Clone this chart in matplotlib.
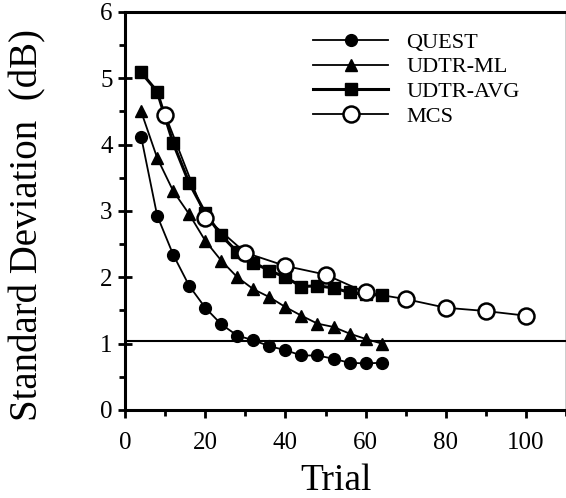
import matplotlib
matplotlib.use("Agg")
import matplotlib.pyplot as plt
from matplotlib.ticker import MultipleLocator

trials4 = [4, 8, 12, 16, 20, 24, 28, 32, 36, 40, 44, 48, 52, 56, 60, 64]
quest = [4.12, 2.93, 2.34, 1.87, 1.54, 1.29, 1.12, 1.05, 0.96, 0.90, 0.82, 0.82, 0.77, 0.71, 0.70, 0.71]
udtr_ml = [4.5, 3.8, 3.3, 2.95, 2.55, 2.25, 2.0, 1.82, 1.7, 1.55, 1.42, 1.3, 1.25, 1.15, 1.07, 1.0]
udtr_avg = [5.09, 4.8, 4.02, 3.42, 2.97, 2.63, 2.38, 2.22, 2.1, 2.0, 1.86, 1.87, 1.84, 1.77, 1.74, 1.73]
trials10 = [10, 20, 30, 40, 50, 60, 70, 80, 90, 100]
mcs = [4.45, 2.9, 2.37, 2.17, 2.04, 1.77, 1.67, 1.54, 1.49, 1.42]
ref_level = 1.04

plt.rcParams['font.family'] = ['Liberation Serif', 'DejaVu Serif']

fig = plt.figure(figsize=(5.66, 4.98), dpi=100)
ax = fig.add_axes([0.221, 0.177, 0.779, 0.799])

ax.axhline(ref_level, color='black', lw=1.5, zorder=1)
ax.plot(trials4, quest, '-o', color='black', ms=8.5, lw=1.3, label='QUEST', zorder=3)
ax.plot(trials4, udtr_ml, '-^', color='black', ms=8.5, lw=1.3, label='UDTR-ML', zorder=3)
ax.plot(trials4, udtr_avg, '-s', color='black', ms=8, lw=2.2, label='UDTR-AVG', zorder=3)
ax.plot(trials10, mcs, '-o', color='black', mfc='white', mec='black', mew=1.8, ms=11.5, lw=1.3,
        label='MCS', zorder=4)

ax.set_xlim(0, 110)
ax.set_ylim(0, 6)
ax.xaxis.set_major_locator(MultipleLocator(20))
ax.xaxis.set_minor_locator(MultipleLocator(10))
ax.yaxis.set_major_locator(MultipleLocator(1))
ax.yaxis.set_minor_locator(MultipleLocator(0.5))
ax.set_xticks([0, 20, 40, 60, 80, 100])
ax.tick_params(axis='x', which='major', direction='out', length=6, width=2, labelsize=18, pad=10)
ax.tick_params(axis='x', which='minor', direction='out', length=4, width=2)
ax.tick_params(axis='y', which='major', direction='inout', length=10, width=2, labelsize=18, pad=4)
ax.tick_params(axis='y', which='minor', direction='out', length=4, width=2)
for s in ['left', 'bottom', 'top']:
    ax.spines[s].set_linewidth(2.2)
ax.spines['right'].set_linewidth(1.0)

fig.text(28 / 566, 1 - 225 / 498, 'Standard Deviation  (dB)', rotation=90,
         ha='center', va='center', fontsize=28)
fig.text(336 / 566, 1 - 481 / 498, 'Trial', ha='center', va='center', fontsize=27)

leg = ax.legend(loc='upper right', bbox_to_anchor=(0.915, 0.972), frameon=False, fontsize=16,
                handlelength=3.4, handletextpad=0.8, labelspacing=0.19, borderaxespad=0.0)

fig.savefig('out.png', dpi=100)
